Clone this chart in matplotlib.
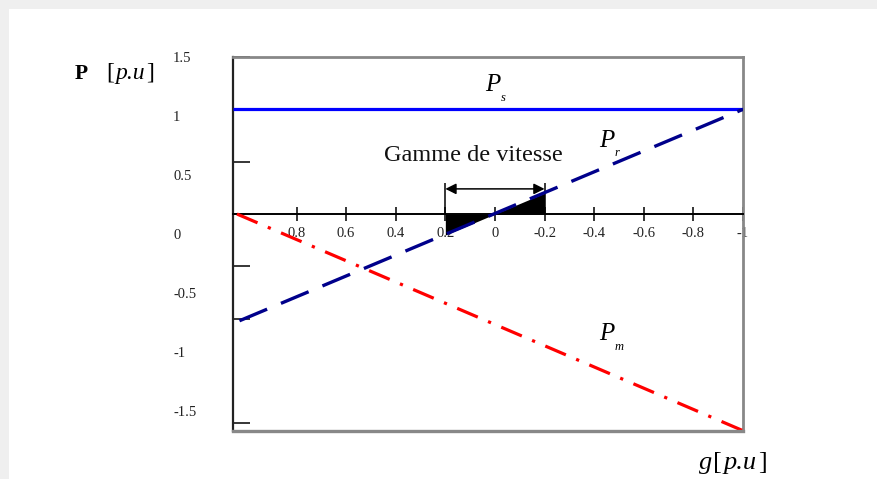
import matplotlib
matplotlib.use("Agg")
import matplotlib.pyplot as plt
from matplotlib.patches import Rectangle

plt.rcParams['font.family'] = ['Liberation Serif', 'DejaVu Serif']
plt.rcParams['axes.unicode_minus'] = False

# ---- data ----
g_ends = [1.056, -1.0]
Ps = [1.0, 1.0]
g_pr = [1.03, -1.0]
Pr = [-1.02, 1.0]
g_pm = [1.04, -1.0]
Pm = [0.0, -2.07]
range_g = [0.2, 0.0, -0.2]
range_Pr = [-0.2, 0.0, 0.2]

x_ticks = [0.8, 0.6, 0.4, 0.2, 0.0, -0.2, -0.4, -0.6, -0.8, -1.0]
x_labels = ['0.8', '0.6', '0.4', '0.2', '0', '-0.2', '-0.4', '-0.6', '-0.8', '-1']
y_ticks = [1.5, 1.0, 0.5, 0.0, -0.5, -1.0, -2.0]
y_label_vals = [1.5, 1.0, 0.5, 0.0, -0.5, -1.0, -1.5]
y_labels = ['1.5', '1', '0.5', '0', '-0.5', '-1', '-1.5']

W, H = 877, 479
fig = plt.figure(figsize=(W / 100, H / 100), dpi=100)
fig.patch.set_facecolor('#efefef')
fig.patches.append(Rectangle((9 / W, 0), 1, 1 - 9 / H, transform=fig.transFigure,
                             facecolor='white', edgecolor='none', zorder=-10))

pos = [233 / W, 1 - 431 / H, (743 - 233) / W, (431 - 57) / H]

# tick-label axis (labels as printed in original)
axl = fig.add_axes(pos, frameon=False)
axl.set_ylim(-1.668, 1.483)
axl.set_xticks([])
axl.set_yticks(y_label_vals)
axl.set_yticklabels(y_labels, fontsize=10.5, color='#222222')
axl.tick_params(axis='y', length=0, pad=43.2)
for t in axl.get_yticklabels():
    t.set_ha('left')
axl.patch.set_alpha(0)

ax = fig.add_axes(pos)
ax.patch.set_alpha(0)
ax.set_xlim(1.056, -1.0)
ax.set_ylim(-2.073, 1.5)

ax.spines['bottom'].set_position(('data', 0))
ax.spines['bottom'].set_color('black')
ax.spines['bottom'].set_linewidth(1.4)
ax.spines['left'].set_color('#222222')
ax.spines['left'].set_linewidth(1.6)
for s in ['top', 'right']:
    ax.spines[s].set_color('#888888')
    ax.spines[s].set_linewidth(2)
ax.plot([0, 1], [0, 0], transform=ax.transAxes, color='#888888', lw=2.4,
        clip_on=False, zorder=5)

ax.set_xticks(x_ticks)
ax.set_xticklabels(x_labels, fontsize=10.5, color='#222222')
ax.tick_params(axis='x', direction='inout', length=10, width=1.1, pad=4)
ax.set_yticks(y_ticks)
ax.tick_params(axis='y', direction='in', length=12.5, width=1.1, labelleft=False)

ax.plot(g_ends, Ps, color='#0000ff', lw=2.3, solid_capstyle='butt', zorder=4)
ax.plot(g_pr, Pr, color='#00008b', lw=2.4, linestyle=(0, (9, 4.5)), zorder=4)
ax.plot(g_pm, Pm, color='#ff0000', lw=2.3, linestyle=(0, (7, 3.5, 1, 3.5)), zorder=4)

ax.fill_between(range_g, range_Pr, 0, color='black', lw=0, zorder=3)
ax.vlines([range_g[0], range_g[-1]], 0, 0.3, color='black', lw=1.1, zorder=3)
ax.annotate('', xy=(range_g[-1], 0.24), xytext=(range_g[0], 0.24),
            arrowprops=dict(arrowstyle='<|-|>', color='black', lw=1.1,
                            mutation_scale=16, shrinkA=0, shrinkB=0))

ax.text(0.085, 0.56, 'Gamme de vitesse', fontsize=17.5, ha='center', va='center',
        color='#111111')


def plabel(x, y, sub):
    ax.text(x, y, 'P', fontsize=18, style='italic', ha='center', va='center')
    ax.annotate(sub, xy=(x, y), xytext=(6, -9), textcoords='offset points',
                fontsize=9, style='italic', ha='left', va='center')


plabel(0.01, 1.23, 's')
plabel(-0.45, 0.70, 'r')
plabel(-0.45, -1.15, 'm')


def unit_label(xpx, ypx, size, prefix=None):
    # "[p.u]" with upright brackets, italic p.u ; anchor = centre of "p.u"
    xy = (xpx / W, 1 - ypx / H)
    kw = dict(xycoords='figure fraction', textcoords='offset points',
              fontsize=size, va='baseline')
    half = size * 0.68
    fig.add_artist(plt.Annotation('p.u', xy=xy, xytext=(0, 0), ha='center',
                                  style='italic', **kw))
    fig.add_artist(plt.Annotation('[', xy=xy, xytext=(-half, 0), ha='right', **kw))
    fig.add_artist(plt.Annotation(']', xy=xy, xytext=(half, 0), ha='left', **kw))
    if prefix:
        fig.add_artist(plt.Annotation(prefix, xy=xy,
                                      xytext=(-half - size * 0.36, 0),
                                      ha='right', style='italic', **kw))


fig.text(81 / W, 1 - 79 / H, 'P', fontsize=15.5, fontweight='bold', ha='center',
         va='baseline')
unit_label(130, 79, 17)
unit_label(740, 469, 19, prefix='g')

fig.savefig('out.png', dpi=100, facecolor=fig.get_facecolor())
